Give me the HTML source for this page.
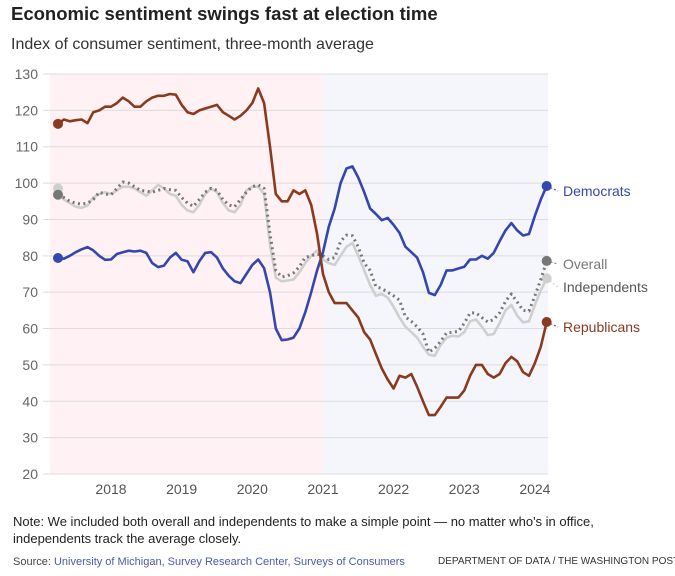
<!DOCTYPE html>
<html><head><meta charset="utf-8"><style>
body{margin:0;background:#fff;font-family:"Liberation Sans",sans-serif;}
#wrap{position:relative;width:675px;height:576px;overflow:hidden;}
.t{position:absolute;white-space:nowrap;}
</style></head><body>
<div id="wrap">
<div class="t" style="left:11px;top:3px;font-size:18.5px;font-weight:bold;color:#222;">Economic sentiment swings fast at election time</div>
<div class="t" style="left:11px;top:36px;font-size:16px;color:#333;">Index of consumer sentiment, three-month average</div>
<svg id="svg" width="675" height="576" style="position:absolute;left:0;top:0;"></svg>
<div class="t" style="left:13px;top:513px;font-size:13px;color:#222;line-height:17px;">Note: We included both overall and independents to make a simple point — no matter who's in office,<br>independents track the average closely.</div>
<div class="t" style="left:13px;top:556px;font-size:11px;color:#444;">Source: <span style="color:#4a5bab">University of Michigan, Survey Research Center, Surveys of Consumers</span></div>
<div class="t" style="left:438px;top:556px;font-size:10px;color:#333;">DEPARTMENT OF DATA / THE WASHINGTON POST</div>
</div>
<script>
const yTicks=[20,30,40,50,60,70,80,90,100,110,120,130];
const xTickYears=[2018,2019,2020,2021,2022,2023,2024];
const startYear=2017.25;
const republicans=[116.3,117.5,117,117.3,117.5,116.5,119.5,120,121,121,122,123.5,122.5,121,121,122.5,123.5,124,124,124.5,124.3,121.5,119.5,119,120,120.5,121,121.5,119.5,118.5,117.5,118.5,120,122,126,122,110,97,95,95,98,97,98,94,86,75,70,67,67,67,65,63,59,57,53,49,46,43.5,47,46.5,47.5,44,40,36.2,36.2,38.5,41,41,41,43,47,50,50,47.5,46.5,47.5,50.5,52.2,51,48,47,50.5,55,61.8];
const democrats=[79.4,79.2,80,81,81.8,82.4,81.5,80,78.9,79,80.5,81,81.4,81.2,81.4,80.8,78,76.9,77.3,79.5,80.8,78.9,78.5,75.5,78.5,80.8,81,79.5,76.5,74.5,73,72.5,75,77.5,79,76.6,70,60,56.8,57,57.5,60,64.5,70,76,81,88,93,100,104,104.6,101.5,97.5,93,91.5,89.8,90.4,88.5,86.3,82.5,81,79.5,75.5,69.8,69.2,72,76,76,76.5,77,79,79,80,79.2,80.8,84,87,89,87,85.6,86,91,95.5,99.2];
const overall=[96.8,96,95,94.5,94.2,94.5,95.5,97.5,97,96.8,98.5,100.3,100,99,98,97.8,97.5,98,98.5,98.2,98,96,94.5,93.6,95.5,97.5,98.6,98,95.5,94,93.5,95.5,97.5,99,99.5,98.5,86,76,74.2,74.5,75.3,77,79.6,80,80.5,80,79,79.5,84,85.7,85.5,82.4,78,76,71.5,71,70,69,67.8,63.2,62,60.5,58.5,53.5,54.6,56.5,58.8,59,59.2,61.5,64.3,64.3,63,61.8,62.5,64.3,67.5,69.5,67.3,65,64.8,69,73.5,78.6];
const independents=[98.5,95.5,94.5,93.5,93.2,93.8,96,97,97.5,97,98,99,99,98.5,97.5,96.5,98,99.5,98.5,97,96.5,94,92.5,92,94,97,98.5,97.5,94.5,92.5,92,94,98,99,99,97,83,74,73,73.2,73.5,75.5,78,80,81.5,79,78,77.5,80,82.5,83.5,80,76,72,69,69.5,68.5,66,63,60.5,59,57.5,55,52.8,52.5,55.5,57.5,58,57.8,59,62,62.5,60.5,58.2,58.5,61.5,65,66.5,63.5,61.7,62,66.5,70.5,73.8];

const NS="http://www.w3.org/2000/svg";
const svg=document.getElementById('svg');
const X0=50,X1=548,Y0=74,Y1=474;
const yS=v=>Y0+(130-v)*(Y1-Y0)/110;
const xS=t=>111+(t-2018)*70.65;
const tOf=i=>startYear+i/12;
function mk(tag,attrs){const e=document.createElementNS(NS,tag);for(const k in attrs)e.setAttribute(k,attrs[k]);svg.appendChild(e);return e;}
let r=mk('rect',{x:X0,y:Y0,width:xS(2021)-X0,height:Y1-Y0,fill:'#fff1f4'});


r=mk('rect',{x:xS(2021),y:Y0,width:X1-xS(2021),height:Y1-Y0,fill:'#f5f6fc'});


yTicks.forEach(v=>{
 const l=mk('line',{x1:43,x2:X1,y1:yS(v),y2:yS(v),stroke:'#ddd','stroke-width':1});
 
 
 const t=mk('text',{x:38,y:yS(v)+5,'font-size':14,fill:'#666','text-anchor':'end','font-family':'Liberation Sans, sans-serif'});
 t.textContent=v;
 
 
});
xTickYears.forEach(y=>{
 const t=mk('text',{x:xS(y),y:494,'font-size':14,fill:'#555','text-anchor':'middle','font-family':'Liberation Sans, sans-serif'});
 t.textContent=y;
 
 
});
function series(vals,color,dash,name,label,ly){
 const d=vals.map((v,i)=>(i?'L':'M')+xS(tOf(i)).toFixed(1)+','+yS(v).toFixed(1)).join('');
 const p=mk('path',{d:d,fill:'none',stroke:color,'stroke-width':dash?3:2.6,'stroke-linejoin':'round'});
 if(dash){p.setAttribute('stroke-dasharray','2 3.5');}
 
 
 const n=vals.length-1;
 const ex=xS(tOf(n)),ey=yS(vals[n]);
 const c0=mk('circle',{cx:xS(tOf(0)),cy:yS(vals[0]),r:5,fill:color});
 
 
 const ln=mk('line',{x1:ex,x2:558,y1:ey,y2:ly,stroke:color,'stroke-width':1,'stroke-dasharray':'2 2'});
 
 
 const c1=mk('circle',{cx:ex,cy:ey,r:5,fill:color});
 
 
 const t=mk('text',{x:563,y:ly+5,'font-size':14,fill:color==='#cfcfcf'?'#555':color,'font-family':'Liberation Sans, sans-serif'});
 t.textContent=label;
 
 
}
series(independents,'#cfcfcf',false,'independents','Independents',287);
series(overall,'#777777',true,'overall','Overall',264);
series(democrats,'#3447b0',false,'democrats','Democrats',191);
series(republicans,'#8a3a1e',false,'republicans','Republicans',327);
</script>
</body></html>
